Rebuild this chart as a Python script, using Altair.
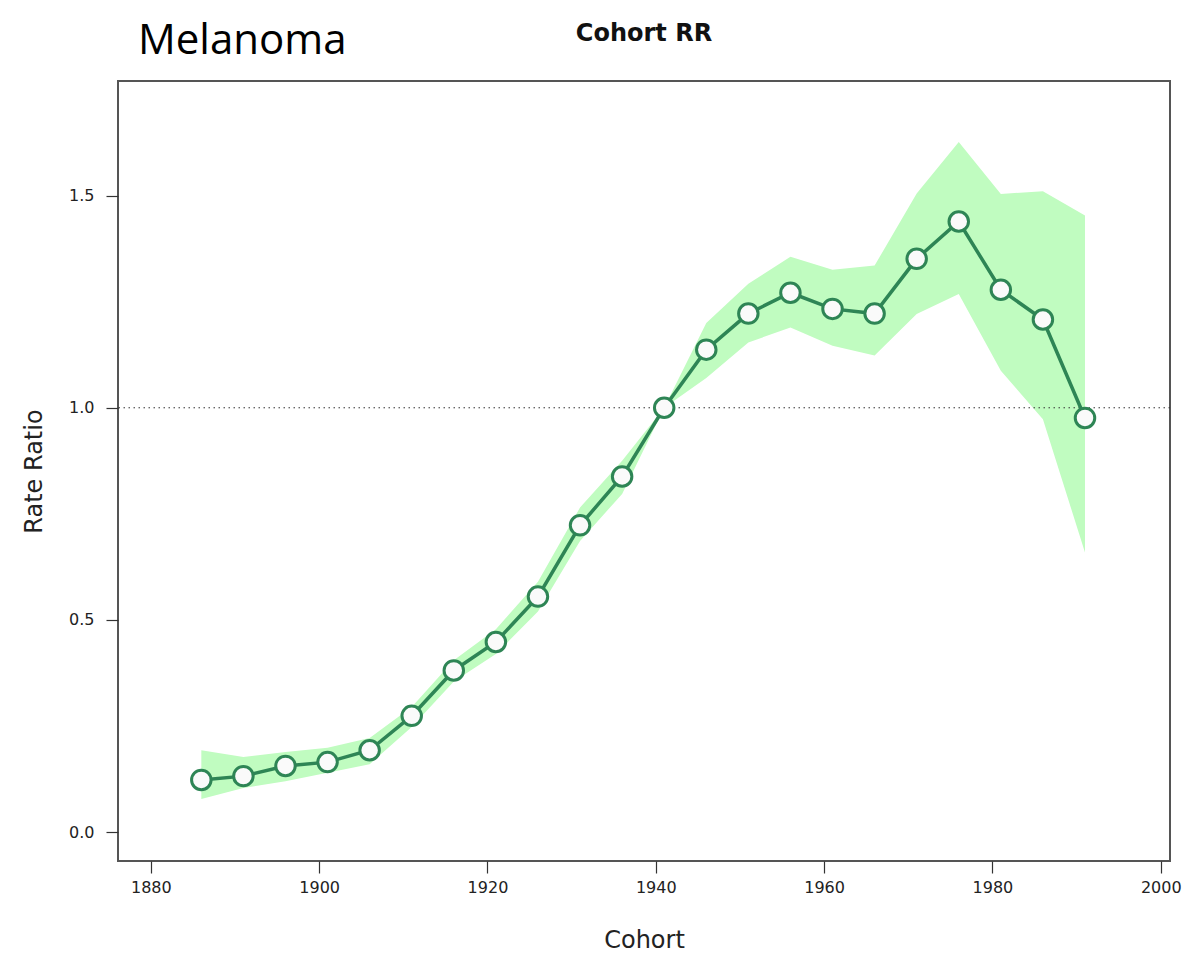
import altair as alt
import pandas as pd

cohort = [1886, 1891, 1896, 1901, 1906, 1911, 1916, 1921, 1926, 1931, 1936,
          1941, 1946, 1951, 1956, 1961, 1966, 1971, 1976, 1981, 1986, 1991]
rr = [0.123, 0.132, 0.156, 0.165, 0.193, 0.274, 0.381, 0.448, 0.555, 0.723, 0.838,
      1.000, 1.137, 1.222, 1.271, 1.233, 1.222, 1.351, 1.439, 1.278, 1.208, 0.976]
lower = [0.078, 0.104, 0.120, 0.140, 0.160, 0.248, 0.355, 0.420, 0.520, 0.686, 0.797,
         1.000, 1.070, 1.154, 1.189, 1.146, 1.123, 1.221, 1.268, 1.087, 0.973, 0.659]
upper = [0.193, 0.177, 0.189, 0.199, 0.222, 0.295, 0.405, 0.478, 0.590, 0.765, 0.875,
         1.000, 1.200, 1.292, 1.356, 1.325, 1.335, 1.505, 1.626, 1.504, 1.510, 1.453]

x_ticks = [1880, 1900, 1920, 1940, 1960, 1980, 2000]
y_ticks = [0.0, 0.5, 1.0, 1.5]
ref_value = [1.0]
panel_label = ["Melanoma"]
plot_title = ["Cohort RR"]

df = pd.DataFrame({"Cohort": cohort, "RR": rr, "Lower": lower, "Upper": upper})
ref_df = pd.DataFrame({"ref": ref_value})
lab_df = pd.DataFrame({"label": panel_label})
title_df = pd.DataFrame({"title": plot_title})

x_scale = alt.Scale(domain=[1876.1, 2001.1], nice=False, zero=False)
y_scale = alt.Scale(domain=[-0.068, 1.770], nice=False, zero=False)

x_axis = alt.Axis(values=x_ticks, format="d", title="Cohort", grid=False,
                  domain=False, tickSize=12, tickColor="#333", tickWidth=1.2,
                  labelFont="DejaVu Sans", labelFontSize=16, labelColor="#222",
                  labelPadding=6, titleFont="DejaVu Sans", titleFontSize=24,
                  titleFontWeight="normal", titleColor="#222", titlePadding=33)
y_axis = alt.Axis(values=y_ticks, format=".1f", title="Rate Ratio", grid=False,
                  domain=False, tickSize=12, tickColor="#333", tickWidth=1.2,
                  labelFont="DejaVu Sans", labelFontSize=16, labelColor="#222",
                  labelPadding=12, titleFont="DejaVu Sans", titleFontSize=24,
                  titleFontWeight="normal", titleColor="#222", titlePadding=22)

base = alt.Chart(df)

band = base.mark_area(color="#c0fcc0", opacity=1).encode(
    x=alt.X("Cohort:Q", scale=x_scale, axis=x_axis),
    y=alt.Y("Lower:Q", scale=y_scale, axis=y_axis),
    y2="Upper:Q",
)

ref = alt.Chart(ref_df).mark_rule(color="#333", strokeWidth=1, strokeDash=[1.5, 3.5]).encode(
    y=alt.Y("ref:Q", scale=y_scale),
)

line = base.mark_line(color="#2e8555", strokeWidth=3.5).encode(
    x=alt.X("Cohort:Q", scale=x_scale),
    y=alt.Y("RR:Q", scale=y_scale),
)

points = base.mark_point(shape="circle", filled=True, fill="#fafafa", stroke="#2e8555",
                         strokeWidth=3, size=380, opacity=1).encode(
    x=alt.X("Cohort:Q", scale=x_scale),
    y=alt.Y("RR:Q", scale=y_scale),
)

label = alt.Chart(lab_df).mark_text(font="Open Sans", fontSize=42, align="left",
                                    baseline="alphabetic", color="#000").encode(
    x=alt.value(20), y=alt.value(-27), text="label:N"
)

title_mark = alt.Chart(title_df).mark_text(font="DejaVu Sans", fontSize=24,
                                           fontWeight="bold", align="center",
                                           baseline="middle", color="#111").encode(
    x=alt.value(526), y=alt.value(-47), text="title:N"
)

chart = alt.layer(band, ref, line, points, label, title_mark).properties(
    width=1052, height=780,
    autosize=alt.AutoSizeParams(type="none"),
    padding={"left": 110, "top": 73, "right": 14, "bottom": 100},
).configure(background="white").configure_view(stroke="#555", strokeWidth=2)

chart.save("out.html", embed_options={"renderer": "svg", "actions": False})
